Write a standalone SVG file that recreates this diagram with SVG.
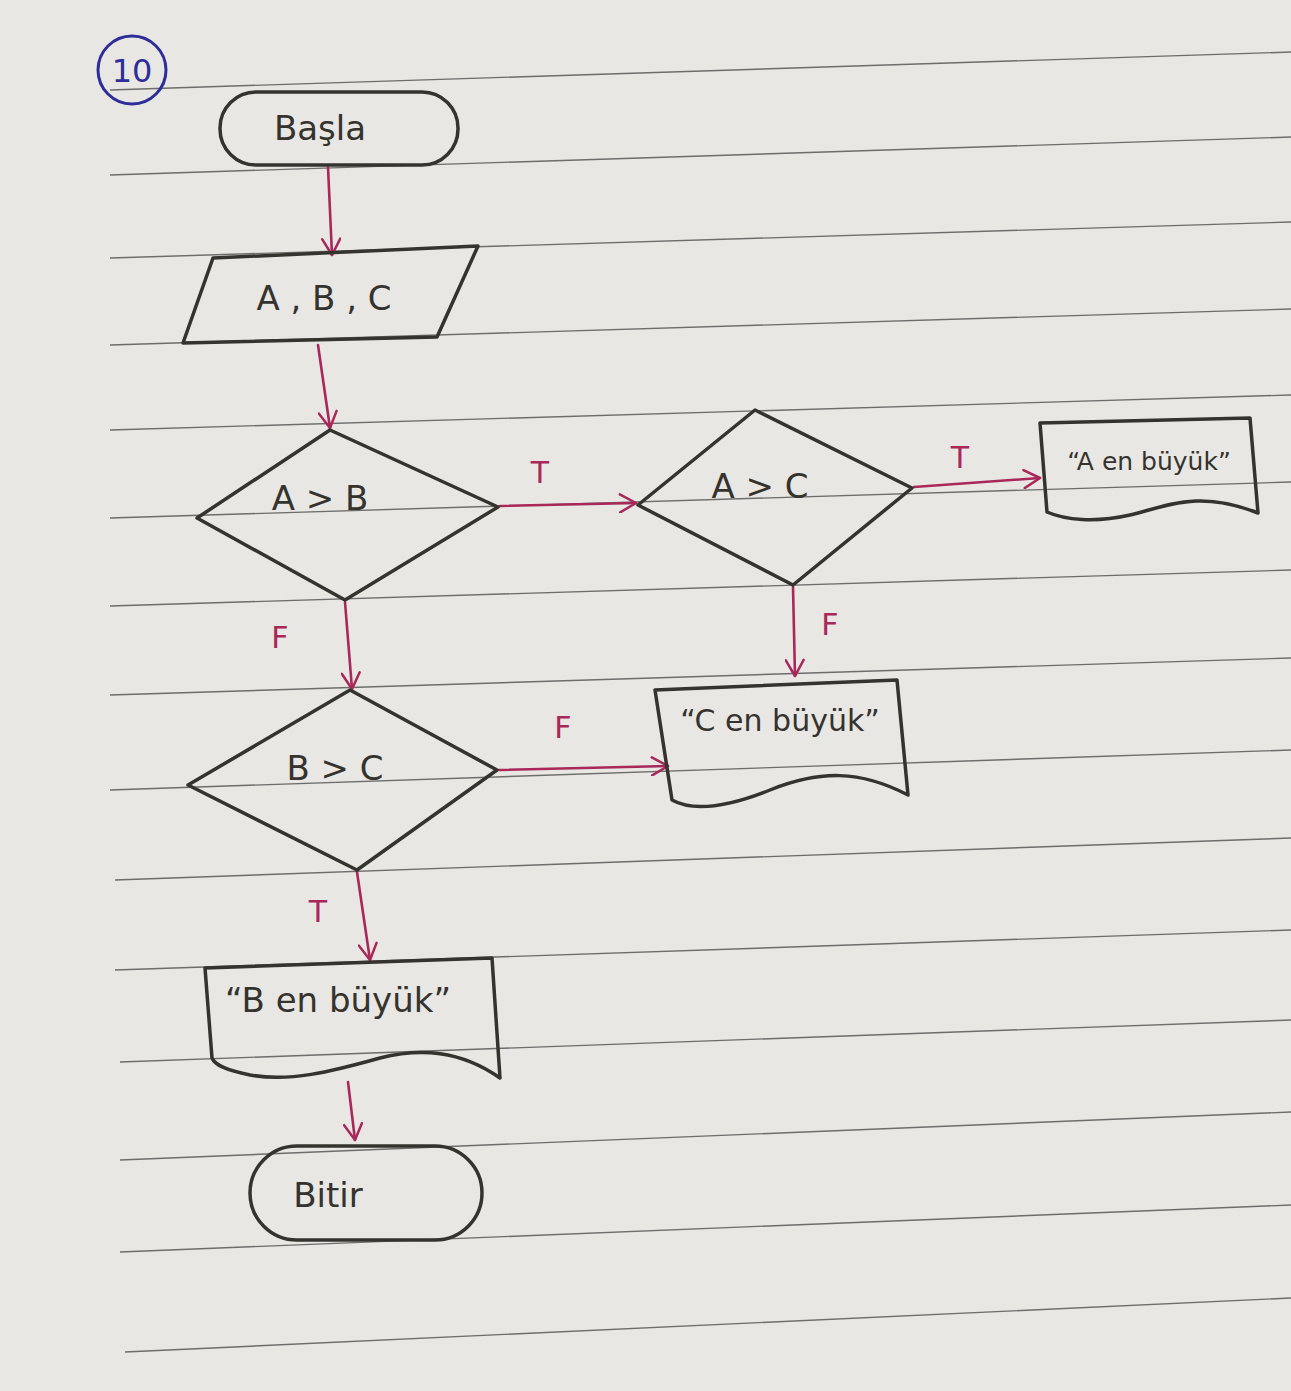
<svg xmlns="http://www.w3.org/2000/svg" width="1291" height="1391" viewBox="0 0 1291 1391">
<defs>
<marker id="arr" viewBox="0 0 20 20" refX="18" refY="10" markerWidth="20" markerHeight="20" markerUnits="userSpaceOnUse" orient="auto">
<path d="M2 1 L18 10 L2 19" fill="none" stroke="#a8285a" stroke-width="2.5" stroke-linecap="round" stroke-linejoin="round"/>
</marker>
</defs>
<style>
.paper{fill:#e8e7e4}
.rule{stroke:#3a3a3a;stroke-width:1.4;opacity:0.7}
.shape{fill:none;stroke:#35332e;stroke-width:3.5;stroke-linejoin:round;stroke-linecap:round}
.t{font-family:"DejaVu Sans","Liberation Sans",sans-serif;font-size:34px;fill:#35332e;text-anchor:middle}
.conn{fill:none;stroke:#a8285a;stroke-width:2.6;stroke-linecap:round;marker-end:url(#arr)}
.lbl{font-family:"DejaVu Sans","Liberation Sans",sans-serif;font-size:30px;fill:#a8285a;text-anchor:middle}
</style>
<rect class="paper" x="0" y="0" width="1291" height="1391"/>
<g id="ruled-lines">
<line class="rule" x1="110" y1="90" x2="1291" y2="52"/>
<line class="rule" x1="110" y1="175" x2="1291" y2="137"/>
<line class="rule" x1="110" y1="258" x2="1291" y2="222"/>
<line class="rule" x1="110" y1="345" x2="1291" y2="309"/>
<line class="rule" x1="110" y1="430" x2="1291" y2="395"/>
<line class="rule" x1="110" y1="518" x2="1291" y2="482"/>
<line class="rule" x1="110" y1="606" x2="1291" y2="570"/>
<line class="rule" x1="110" y1="695" x2="1291" y2="658"/>
<line class="rule" x1="110" y1="790" x2="1291" y2="750"/>
<line class="rule" x1="115" y1="880" x2="1291" y2="838"/>
<line class="rule" x1="115" y1="970" x2="1291" y2="930"/>
<line class="rule" x1="120" y1="1062" x2="1291" y2="1020"/>
<line class="rule" x1="120" y1="1160" x2="1291" y2="1112"/>
<line class="rule" x1="120" y1="1252" x2="1291" y2="1205"/>
<line class="rule" x1="125" y1="1352" x2="1291" y2="1298"/>
</g>
<g id="page-number">
<circle cx="132" cy="70" r="34" fill="none" stroke="#2e2e9a" stroke-width="3"/>
<text x="132" y="82" font-family="DejaVu Sans, sans-serif" font-size="32" fill="#2e2e9a" text-anchor="middle">10</text>
</g>
<g id="connectors">
<path class="conn" d="M328 167 L332 255"/>
<path class="conn" d="M318 345 L330 428"/>
<path class="conn" d="M500 506 L636 503"/>
<path class="conn" d="M914 487 L1040 478"/>
<path class="conn" d="M793 587 L795 676"/>
<path class="conn" d="M345 602 L352 689"/>
<path class="conn" d="M499 770 L668 766"/>
<path class="conn" d="M357 872 L370 960"/>
<path class="conn" d="M348 1082 L355 1140"/>
<text class="lbl" x="540" y="483">T</text>
<text class="lbl" x="960" y="468">T</text>
<text class="lbl" x="830" y="635">F</text>
<text class="lbl" x="280" y="648">F</text>
<text class="lbl" x="563" y="738">F</text>
<text class="lbl" x="318" y="922">T</text>
</g>
<g id="start">
<rect class="shape" x="220" y="92" width="238" height="73" rx="36"/>
<text class="t" x="320" y="140">Başla</text>
</g>
<g id="input">
<path class="shape" d="M213 258 L478 246 L437 337 L183 343 Z"/>
<text class="t" x="324" y="310">A , B , C</text>
</g>
<g id="dec-ab">
<path class="shape" d="M330 430 L498 507 L345 600 L197 518 Z"/>
<text class="t" x="320" y="510">A &gt; B</text>
</g>
<g id="dec-ac">
<path class="shape" d="M755 410 L912 488 L793 585 L638 505 Z"/>
<text class="t" x="760" y="498">A &gt; C</text>
</g>
<g id="out-a">
<path class="shape" d="M1040 423 L1250 418 L1258 513 C1200 490 1170 505 1130 515 C1095 523 1065 520 1047 512 Z"/>
<text class="t" x="1149" y="470" style="font-size:25px">“A en büyük”</text>
</g>
<g id="out-c">
<path class="shape" d="M655 690 L897 680 L908 795 C860 770 820 770 770 790 C720 810 690 810 672 800 Z"/>
<text class="t" x="780" y="731" style="font-size:30px">“C en büyük”</text>
</g>
<g id="dec-bc">
<path class="shape" d="M350 690 L497 770 L357 870 L188 785 Z"/>
<text class="t" x="335" y="780">B &gt; C</text>
</g>
<g id="out-b">
<path class="shape" d="M205 968 L492 958 L500 1078 C460 1050 420 1048 380 1058 C330 1072 290 1082 250 1075 C225 1070 215 1065 212 1058 Z"/>
<text class="t" x="338" y="1012">“B en büyük”</text>
</g>
<g id="end">
<rect class="shape" x="250" y="1146" width="232" height="94" rx="47"/>
<text class="t" x="328" y="1207">Bitir</text>
</g>
</svg>
